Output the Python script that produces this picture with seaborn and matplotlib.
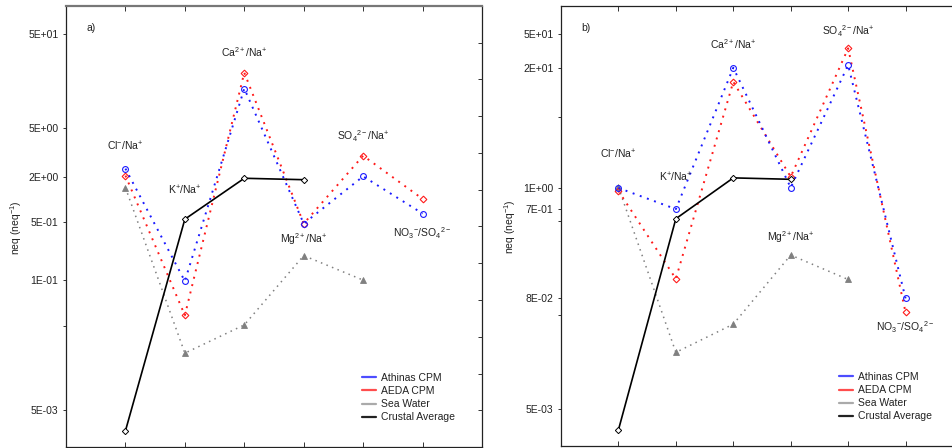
import numpy as np
import pandas as pd
import matplotlib
matplotlib.use("Agg")
import matplotlib.pyplot as plt
from matplotlib.lines import Line2D
import seaborn as sns

# ---------------- data ----------------
categories = ["Cl/Na", "K/Na", "Ca/Na", "Mg/Na", "SO4/Na", "NO3/SO4"]
cat_labels = [r"Cl$^{-}$/Na$^{+}$", r"K$^{+}$/Na$^{+}$", r"Ca$^{2+}$/Na$^{+}$",
              r"Mg$^{2+}$/Na$^{+}$", r"SO$_4$$^{2-}$/Na$^{+}$", r"NO$_3$$^{-}$/SO$_4$$^{2-}$"]

athinas_a = [1.85, 0.117, 13.2, 0.48, 1.53, 0.615]
aeda_a = [1.56, 0.0506, 19.5, 0.48, 2.54, 0.88]
athinas_b = [1.14, 0.678, 21.9, 1.15, 23.4, 0.0754]
aeda_b = [1.06, 0.122, 15.5, 1.50, 35.3, 0.0534]
sea_water = [1.16, 0.0200, 0.0400, 0.219, 0.120, np.nan]
crustal = [0.00297, 0.535, 1.46, 1.41, np.nan, np.nan]

series_names = ["Athinas CPM", "AEDA CPM", "Sea Water", "Crustal Average"]

yticks_a = [50, 5, 1.5, 0.5, 0.12, 0.039, 0.005]
yticklabels_a = ["5E+01", "5E+00", "2E+00", "5E-01", "1E-01", "", "5E-03"]
yticks_b = [50, 21.8, 6.5, 1.14, 0.68, 0.5, 0.076, 0.05, 0.005]
yticklabels_b = ["5E+01", "2E+01", "", "1E+00", "7E-01", "", "8E-02", "", "5E-03"]

label_y_a = [3.2, 1.08, 32.4, 0.325, 4.05, 0.377]
label_y_b = [2.62, 1.49, 39.3, 0.34, 54.0, 0.037]

# ---------------- style ----------------
sns.set_style("ticks")
plt.rcParams["font.family"] = ["Liberation Sans", "DejaVu Sans"]
plt.rcParams["mathtext.fontset"] = "custom"
plt.rcParams["mathtext.rm"] = "Liberation Sans"
plt.rcParams["mathtext.it"] = "Liberation Sans:italic"
plt.rcParams["mathtext.bf"] = "Liberation Sans:bold"
plt.rcParams["mathtext.default"] = "regular"

FS = 7.5
TXT = "#222222"
BLUE = "#1a1aff"
RED = "#ff1a1a"
GRAY = "#808080"
DOT = (0, (1, 2.9))

fig = plt.figure(figsize=(9.53, 4.48), dpi=100)
W, H = 953.0, 448.0
ax_a = fig.add_axes([66 / W, (H - 447) / H, 416 / W, 441 / H])
ax_b = fig.add_axes([561 / W, (H - 446) / H, 402 / W, 440 / H])

x = np.arange(1, len(categories) + 1)


def draw_panel(ax, athinas, aeda, yticks, yticklabels, label_y, letter):
    df = pd.DataFrame({"x": x, "athinas": athinas, "aeda": aeda,
                       "sea": sea_water, "crust": crustal})
    d = df.dropna(subset=["sea"])
    sns.lineplot(data=d, x="x", y="sea", ax=ax, color=GRAY, linestyle=DOT, lw=1.1,
                 marker="^", ms=4.2, mfc=GRAY, mec=GRAY, mew=0.6, sort=False)
    sns.lineplot(data=df, x="x", y="aeda", ax=ax, color=RED, linestyle=DOT, lw=1.4,
                 marker="D", ms=3.4, mfc="none", mec=RED, mew=0.8, sort=False)
    sns.lineplot(data=df, x="x", y="athinas", ax=ax, color=BLUE, linestyle=DOT, lw=1.4,
                 marker="o", ms=4.2, mfc="none", mec=BLUE, mew=0.8, sort=False)
    d = df.dropna(subset=["crust"])
    sns.lineplot(data=d, x="x", y="crust", ax=ax, color="black", linestyle="-", lw=1.2,
                 marker="D", ms=3.2, mfc="white", mec="black", mew=0.7, sort=False)

    ax.set_yscale("log")
    ax.set_ylim(0.002, 100)
    ax.set_xlim(0, 7)
    ax.set_xticks(x)
    ax.set_xticklabels([])
    ax.set_xlabel("")
    ax.tick_params(axis="x", direction="in", top=True, bottom=True, length=3.5,
                   width=0.7, color="#333333")
    ax.yaxis.set_minor_locator(matplotlib.ticker.NullLocator())
    ax.set_yticks(yticks)
    ax.set_yticklabels(yticklabels)
    ax.tick_params(axis="y", direction="out", length=2.5, width=0.7,
                   labelsize=FS, labelcolor=TXT, pad=3, color="#333333")
    ax.set_ylabel(r"neq (neq$^{-1}$)", fontsize=FS, color=TXT)
    for s in ax.spines.values():
        s.set_color("#222222")
        s.set_linewidth(0.9)

    for xi, lab, ly in zip(x, cat_labels, label_y):
        ax.text(xi, ly, lab, ha="center", va="center", fontsize=FS, color=TXT)
    ax.text(0.05, 0.951, letter, transform=ax.transAxes, ha="left", va="center",
            fontsize=FS, color=TXT)

    handles = [Line2D([], [], color=c, lw=1.6) for c in
               ["#4d4dff", "#ff4d4d", "#aaaaaa", "#222222"]]
    return handles


h = draw_panel(ax_a, athinas_a, aeda_a, yticks_a, yticklabels_a, label_y_a, "a)")
ax_a.yaxis.set_label_coords(-0.101, 0.498)
ax_a.spines["top"].set_color("#777777")
ax_a.spines["top"].set_linewidth(1.6)
ax_a.legend(h, series_names, loc="upper left", bbox_to_anchor=(0.712, 0.168),
            frameon=False, fontsize=FS, handlelength=1.3, handletextpad=0.55,
            labelspacing=0.3, borderpad=0, borderaxespad=0, labelcolor=TXT)

# right-side inner ticks of panel a
tw = ax_a.twinx()
tw.set_ylim(0, 12)
tw.set_yticks(np.arange(1, 12))
tw.set_yticklabels([])
tw.tick_params(axis="y", which="both", direction="in", left=False, right=True,
               length=3, width=0.7, color="#333333")
for s in tw.spines.values():
    s.set_visible(False)

h = draw_panel(ax_b, athinas_b, aeda_b, yticks_b, yticklabels_b, label_y_b, "b)")
ax_b.yaxis.set_label_coords(-0.107, 0.498)
ax_b.legend(h, series_names, loc="upper left", bbox_to_anchor=(0.692, 0.168),
            frameon=False, fontsize=FS, handlelength=1.3, handletextpad=0.55,
            labelspacing=0.3, borderpad=0, borderaxespad=0, labelcolor=TXT)

fig.savefig("out.png", dpi=100)
